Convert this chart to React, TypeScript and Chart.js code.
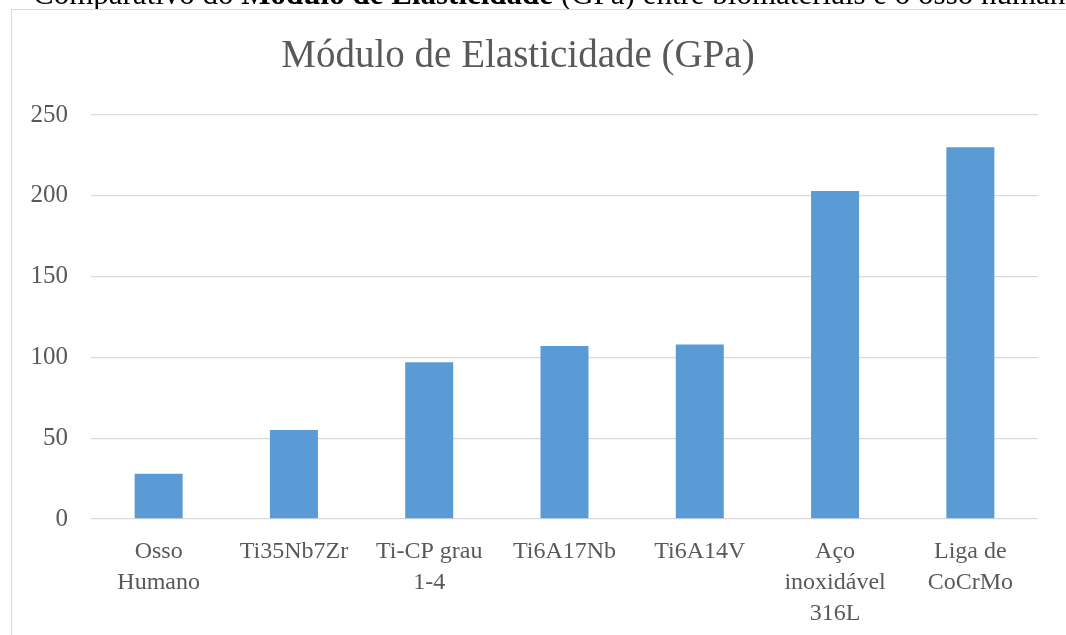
import React, { useEffect, useRef } from "react";
import { Chart, registerables } from "chart.js";

Chart.register(...registerables);

const categories: string[][] = [
  ["Osso", "Humano"],
  ["Ti35Nb7Zr"],
  ["Ti-CP grau", "1-4"],
  ["Ti6A17Nb"],
  ["Ti6A14V"],
  ["Aço", "inoxidável", "316L"],
  ["Liga de", "CoCrMo"],
];
const values: number[] = [28, 55, 97, 107, 108, 203, 230];
const yTicks: number[] = [0, 50, 100, 150, 200, 250];
const chartTitle = "Módulo de Elasticidade (GPa)";

const SERIF = "'Liberation Serif', 'Times New Roman', serif";
const TEXT = "#595959";

const titlePlugin = {
  id: "customTitle",
  afterDraw(chart: any) {
    const ctx = chart.ctx;
    ctx.save();
    ctx.font = `39px ${SERIF}`;
    ctx.fillStyle = TEXT;
    ctx.textAlign = "center";
    ctx.textBaseline = "alphabetic";
    ctx.fillText(chartTitle, 506, 57);
    ctx.restore();
  },
};

export default function App() {
  const ref = useRef<HTMLCanvasElement | null>(null);

  useEffect(() => {
    if (!ref.current) return;
    const chart = new Chart(ref.current, {
      type: "bar",
      data: {
        labels: categories,
        datasets: [
          {
            data: values,
            backgroundColor: "#5B9BD5",
            borderWidth: 0,
            categoryPercentage: 1,
            barPercentage: 0.355,
          },
        ],
      },
      options: {
        responsive: false,
        animation: false,
        layout: { padding: { left: 17, right: 28, top: 105, bottom: 7 } },
        plugins: {
          legend: { display: false },
          title: { display: false },
          tooltip: { enabled: false },
        },
        scales: {
          x: {
            grid: { display: false },
            border: { display: false },
            afterFit(axis: any) {
              axis.height = 109;
              axis.paddingLeft = 0;
              axis.paddingRight = 0;
            },
            ticks: {
              color: TEXT,
              font: { family: SERIF, size: 24, lineHeight: 1.3 },
              maxRotation: 0,
              autoSkip: false,
              padding: 9,
            },
          },
          y: {
            min: 0,
            max: 250,
            afterBuildTicks(axis: any) {
              axis.ticks = yTicks.map((v) => ({ value: v }));
            },
            afterFit(axis: any) {
              axis.width = 62;
            },
            grid: { color: "#D9D9D9", lineWidth: 1.3, drawTicks: false },
            border: { display: false },
            ticks: {
              color: TEXT,
              font: { family: SERIF, size: 25 },
              padding: 23,
            },
          },
        },
      },
      plugins: [titlePlugin],
    });
    return () => chart.destroy();
  }, []);

  return (
    <div>
      <div
        style={{
          position: "fixed",
          left: 33,
          top: -22,
          fontFamily: SERIF,
          fontSize: 31,
          lineHeight: "31px",
          color: "#000",
          whiteSpace: "nowrap",
        }}
      >
        Comparativo do <b>Módulo de Elasticidade</b> (GPa) entre biomateriais e o osso humano
      </div>
      <div
        style={{
          position: "fixed",
          left: 11,
          top: 9,
          width: 1054,
          height: 625,
          borderLeft: "1px solid #D9D9D9",
          borderTop: "1px solid #D9D9D9",
          background: "#fff",
          overflow: "hidden",
        }}
      >
        <canvas ref={ref} width={1054} height={625} style={{ display: "block" }} />
      </div>
    </div>
  );
}
